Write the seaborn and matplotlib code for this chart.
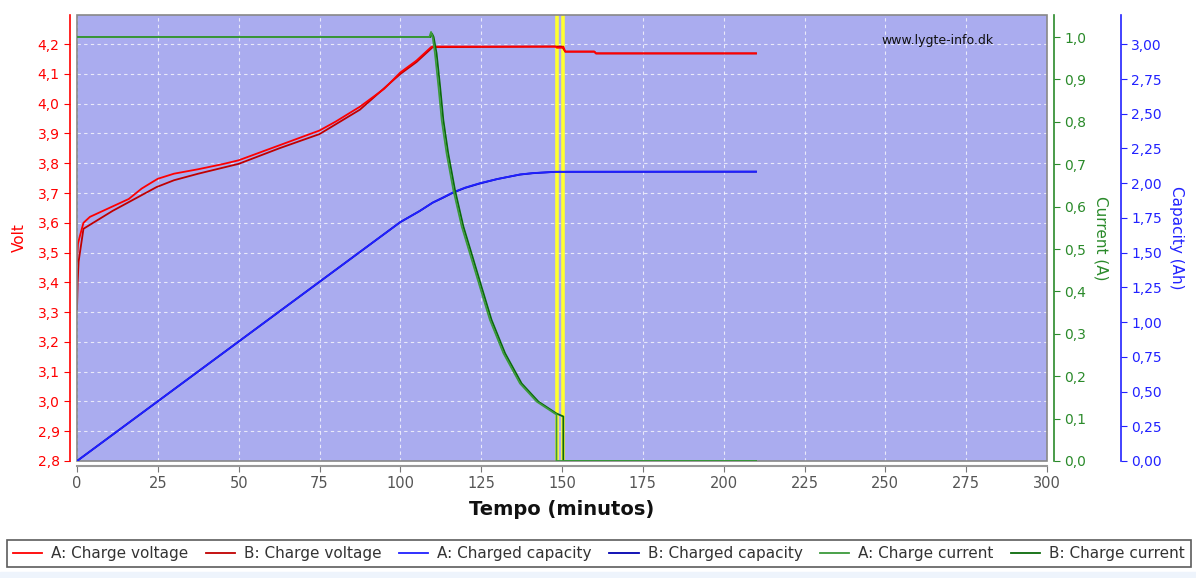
import matplotlib
matplotlib.use("Agg")
import matplotlib.pyplot as plt
import seaborn as sns
from matplotlib.ticker import FuncFormatter, MultipleLocator
from matplotlib.lines import Line2D
from matplotlib.patches import Rectangle

# --- data (time in minutes) ---
volt_a_t = [0, 0.3, 1, 2, 4, 8, 12, 16, 20, 23, 25, 30, 37.5, 45, 50, 55, 62.5, 70, 75, 80,
            87.5, 95, 100, 105, 109.5, 110, 148, 148.4, 150, 150.4, 151, 160, 160.5, 210]
volt_a = [3.47, 3.53, 3.56, 3.60, 3.62, 3.64, 3.66, 3.68, 3.715, 3.735, 3.748, 3.765, 3.78,
          3.797, 3.81, 3.83, 3.86, 3.89, 3.91, 3.94, 3.99, 4.05, 4.105, 4.145, 4.19, 4.192,
          4.192, 4.188, 4.188, 4.192, 4.175, 4.175, 4.169, 4.169]

volt_b_t = [0, 0.2, 0.5, 2, 5, 11, 19.5, 24.6, 30, 37.5, 50, 62.5, 75, 87.5, 100, 105, 110,
            148, 150, 151, 160, 160.5, 210]
volt_b = [3.31, 3.40, 3.47, 3.58, 3.60, 3.64, 3.69, 3.72, 3.743, 3.765, 3.798, 3.85, 3.898,
          3.98, 4.10, 4.14, 4.19, 4.192, 4.192, 4.175, 4.175, 4.169, 4.169]

cap_t = [0, 25, 50, 75, 100, 106, 110, 113, 116.4, 120, 124.6, 130, 137, 141, 148, 210]
cap_a = [0, 0.43, 0.86, 1.29, 1.72, 1.80, 1.86, 1.895, 1.935, 1.968, 2.0, 2.03, 2.063,
         2.073, 2.082, 2.083]
cap_b = [0, 0.43, 0.86, 1.29, 1.72, 1.80, 1.86, 1.893, 1.933, 1.966, 1.998, 2.03, 2.062,
         2.072, 2.082, 2.083]

cur_a_t = [0, 109, 109.5, 110, 110.7, 111.8, 112.8, 114.3, 116.4, 119, 121.5, 124.6, 127.7,
           131.9, 137, 142.2, 147.8, 148.3, 148.3, 210]
cur_a = [1.0, 1.0, 1.012, 1.0, 0.962, 0.883, 0.804, 0.726, 0.639, 0.553, 0.49, 0.411, 0.333,
         0.254, 0.183, 0.14, 0.112, 0.11, 0.0, 0.0]
cur_b_t = [0, 109.3, 109.8, 110.3, 111.2, 112.3, 113.3, 114.8, 116.9, 119.5, 122, 125.1,
           128.2, 132.4, 137.5, 142.7, 148.3, 150.4, 150.4, 210]
cur_b = [1.0, 1.0, 1.008, 1.0, 0.962, 0.883, 0.804, 0.726, 0.639, 0.553, 0.49, 0.411, 0.333,
         0.254, 0.183, 0.14, 0.112, 0.105, 0.0, 0.0]

marks = [148.4, 150.4]

x_ticks = list(range(0, 301, 25))

RED_A, RED_B = "#ff0000", "#c00000"
BLUE_A, BLUE_B = "#2020ff", "#0000b0"
GRN_A, GRN_B = "#3c9a3c", "#0a6a0a"
PX = 0.72  # points per pixel at dpi 100

fig = plt.figure(figsize=(11.96, 5.78), dpi=100)
ax = fig.add_axes([77 / 1196, 1 - 461 / 578, 970 / 1196, 446 / 578])
ax.set_facecolor("#aaacef")
ax_cap = ax.twinx()
ax_cur = ax.twinx()

# yellow end-of-charge markers
for m in marks:
    ax.axvline(m, color="#ffff30", lw=2.6, zorder=1)

def draw(axis, t, v, col):
    sns.lineplot(x=t, y=v, ax=axis, color=col, lw=1.3, estimator=None, sort=False,
                 legend=False, zorder=3)

draw(ax, volt_b_t, volt_b, RED_B)
draw(ax, volt_a_t, volt_a, RED_A)
draw(ax_cap, cap_t, cap_b, BLUE_B)
draw(ax_cap, cap_t, cap_a, BLUE_A)
draw(ax_cur, cur_b_t, cur_b, GRN_B)
draw(ax_cur, cur_a_t, cur_a, GRN_A)

def comma(fmt):
    return FuncFormatter(lambda v, p: (fmt % v).replace(".", ","))

# x axis
ax.set_xlim(0, 300)
ax.set_xticks(x_ticks)
ax.set_xlabel("Tempo (minutos)", fontsize=14, fontweight="bold", color="#111111", labelpad=6)
ax.tick_params(axis="x", colors="#777777", labelcolor="#555555", labelsize=10.5, length=4)
ax.spines["bottom"].set_position(("outward", 5 * PX))
ax.spines["bottom"].set_color("#999999")
ax.spines["bottom"].set_linewidth(1.5)
ax.grid(True, color="white", ls=(0, (3, 3)), lw=0.8, alpha=0.75)
ax.set_axisbelow(True)

# voltage axis
ax.set_ylim(2.8, 4.298)
ax.yaxis.set_major_locator(MultipleLocator(0.1))
ax.yaxis.set_major_formatter(comma("%.1f"))
ax.set_ylabel("Volt", color="red", fontsize=11, labelpad=8)
ax.tick_params(axis="y", colors="red", labelsize=10, length=4)
ax.spines["left"].set_position(("outward", 7 * PX))
ax.spines["left"].set_color("red")
ax.spines["left"].set_linewidth(1.2)
ax.spines["top"].set_visible(False)
ax.spines["right"].set_visible(False)

# capacity axis
ax_cap.set_ylim(0, 3.211)
ax_cap.yaxis.set_major_locator(MultipleLocator(0.25))
ax_cap.yaxis.set_major_formatter(comma("%.2f"))
ax_cap.set_ylabel("Capacity (Ah)", color="#2222ff", fontsize=11, rotation=270, labelpad=16)
ax_cap.tick_params(axis="y", colors="#2222ff", labelsize=10, length=4)
for s in ["left", "top", "bottom"]:
    ax_cap.spines[s].set_visible(False)
ax_cap.spines["right"].set_position(("outward", 74 * PX))
ax_cap.spines["right"].set_color("#2222ff")
ax_cap.spines["right"].set_linewidth(1.2)

# current axis
ax_cur.set_ylim(0, 1.052)
ax_cur.yaxis.set_major_locator(MultipleLocator(0.1))
ax_cur.yaxis.set_major_formatter(comma("%.1f"))
ax_cur.set_ylabel("Current (A)", color="#2a8a2a", fontsize=11, rotation=270, labelpad=16)
ax_cur.tick_params(axis="y", colors="#2a8a2a", labelsize=10, length=4)
for s in ["left", "top", "bottom"]:
    ax_cur.spines[s].set_visible(False)
ax_cur.spines["right"].set_position(("outward", 7 * PX))
ax_cur.spines["right"].set_color("#2a8a2a")
ax_cur.spines["right"].set_linewidth(1.2)

# plot outline
ax.add_patch(Rectangle((0, 0), 1, 1, transform=ax.transAxes, fill=False,
                       edgecolor="#888888", lw=1.2, zorder=5, clip_on=False))

ax.text(0.887, 0.942, "www.lygte-info.dk", transform=ax.transAxes, ha="center",
        va="center", fontsize=9, color="#111111", zorder=6)

# legend
names = ["A: Charge voltage", "B: Charge voltage", "A: Charged capacity",
         "B: Charged capacity", "A: Charge current", "B: Charge current"]
cols = [RED_A, RED_B, BLUE_A, BLUE_B, GRN_A, GRN_B]
handles = [Line2D([], [], color=c, lw=1.3) for c in cols]
leg = fig.legend(handles, names, loc="center", bbox_to_anchor=(599 / 1196, 1 - 553.5 / 578),
                 ncol=6, fontsize=11, frameon=True, fancybox=False, handlelength=1.9,
                 columnspacing=1.15, handletextpad=0.6, borderpad=0.4)
leg.get_frame().set_edgecolor("#333333")
leg.get_frame().set_linewidth(1.2)
for txt in leg.get_texts():
    txt.set_color("#333333")

fig.patches.append(Rectangle((0, 0), 1, 6 / 578, transform=fig.transFigure,
                             color="#eef4fc", zorder=0))

fig.savefig("out.png", dpi=100)
